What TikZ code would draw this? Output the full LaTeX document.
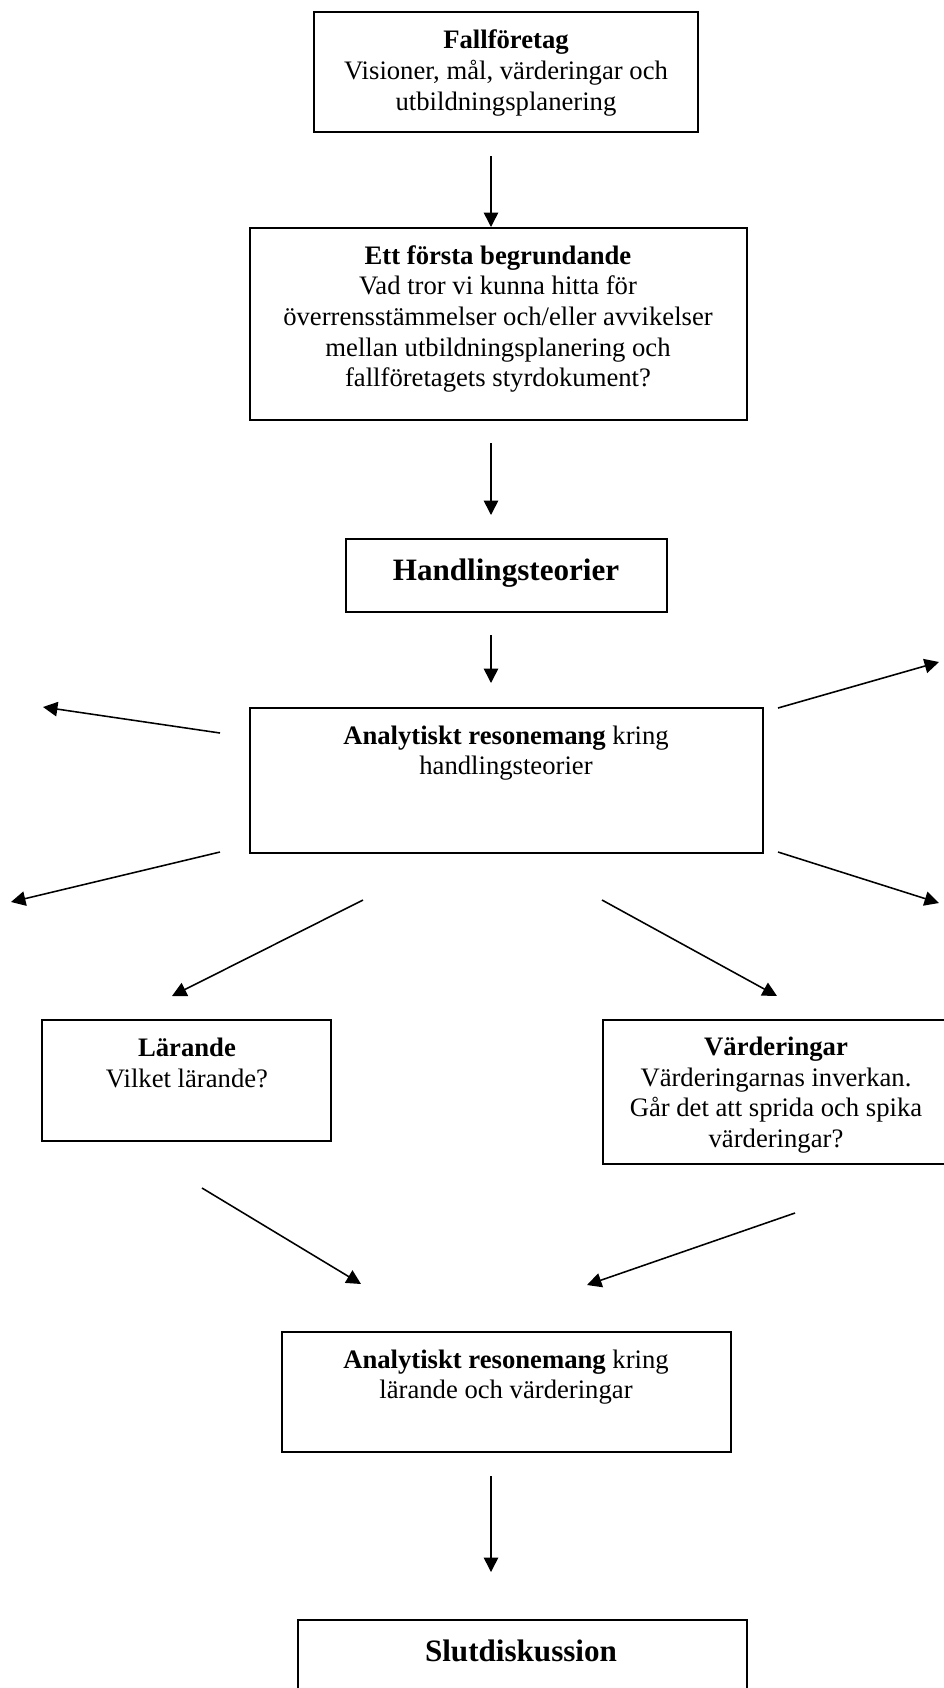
\documentclass[tikz,border=0pt]{standalone}
\usepackage{fontspec}
\setmainfont{Liberation Serif}
\usetikzlibrary{arrows.meta,fit}
\begin{document}
\begin{tikzpicture}[x=0.45pt,y=-0.45pt,
  box/.style={draw,line width=0.8pt,inner sep=0pt},
  txt/.style={align=center,font=\fontsize{12}{13.8}\selectfont,inner sep=0pt},
  headtxt/.style={font=\fontsize{14}{16}\selectfont\bfseries,inner sep=0pt},
  arr/.style={line width=0.7pt,-{Triangle[length=6.5pt,width=6.5pt]}}]
\useasboundingbox (0,0) rectangle (944,1688);
\clip (0,0) rectangle (944,1688);
% boxes
\node[box,fit={(314,12) (698,132)}] (b1) {};
\node[box,fit={(250,228) (747,420)}] (b2) {};
\node[box,fit={(346,539) (667,612)}] (b3) {};
\node[box,fit={(250,708) (763,853)}] (b4) {};
\node[box,fit={(42,1020) (331,1141)}] (bL) {};
\node[box,fit={(603,1020) (960,1164)}] (bV) {};
\node[box,fit={(282,1332) (731,1452)}] (b5) {};
\node[box,fit={(298,1620) (747,1720)}] (b6) {};
% texts
\node[txt] (t1) at (506,73) {\textbf{Fallföretag}\\Visioner, mål, värderingar och\\utbildningsplanering};
\node[txt] (t2) at (498,319) {\textbf{Ett första begrundande}\\Vad tror vi kunna hitta för\\överrensstämmelser och/eller avvikelser\\mellan utbildningsplanering och\\fallföretagets styrdokument?};
\node[headtxt] (t3) at (506,573) {Handlingsteorier};
\node[txt] (t4) at (506,753) {\textbf{Analytiskt resonemang} kring\\handlingsteorier};
\node[txt] (tL) at (187,1063) {\textbf{Lärande}\\Vilket lärande?};
\node[txt] (tV) at (776,1095) {\textbf{Värderingar}\\Värderingarnas inverkan.\\Går det att sprida och spika\\värderingar?};
\node[txt] (t5) at (506,1377) {\textbf{Analytiskt resonemang} kring\\lärande och värderingar};
\node[headtxt] (t6) at (521,1651) {Slutdiskussion};
% arrow end points
\coordinate (a1s) at (491,156); \coordinate (a1e) at (491,227);
\coordinate (a2s) at (491,443); \coordinate (a2e) at (491,515);
\coordinate (a3s) at (491,635); \coordinate (a3e) at (491,683);
\coordinate (uls) at (220,733); \coordinate (ule) at (43,707);
\coordinate (urs) at (778,708); \coordinate (ure) at (939,662);
\coordinate (lls) at (220,852); \coordinate (lle) at (11,902);
\coordinate (lrs) at (778,852); \coordinate (lre) at (939,903);
\coordinate (ils) at (363,900); \coordinate (ile) at (172,996);
\coordinate (irs) at (602,900); \coordinate (ire) at (777,996);
\coordinate (l2s) at (202,1188); \coordinate (l2e) at (361,1284);
\coordinate (v2s) at (795,1213); \coordinate (v2e) at (587,1285);
\coordinate (a4s) at (491,1476); \coordinate (a4e) at (491,1572);
% arrows
\draw[arr] (a1s) -- (a1e);
\draw[arr] (a2s) -- (a2e);
\draw[arr] (a3s) -- (a3e);
\draw[arr] (uls) -- (ule);
\draw[arr] (urs) -- (ure);
\draw[arr] (lls) -- (lle);
\draw[arr] (lrs) -- (lre);
\draw[arr] (ils) -- (ile);
\draw[arr] (irs) -- (ire);
\draw[arr] (l2s) -- (l2e);
\draw[arr] (v2s) -- (v2e);
\draw[arr] (a4s) -- (a4e);
\end{tikzpicture}
\end{document}
